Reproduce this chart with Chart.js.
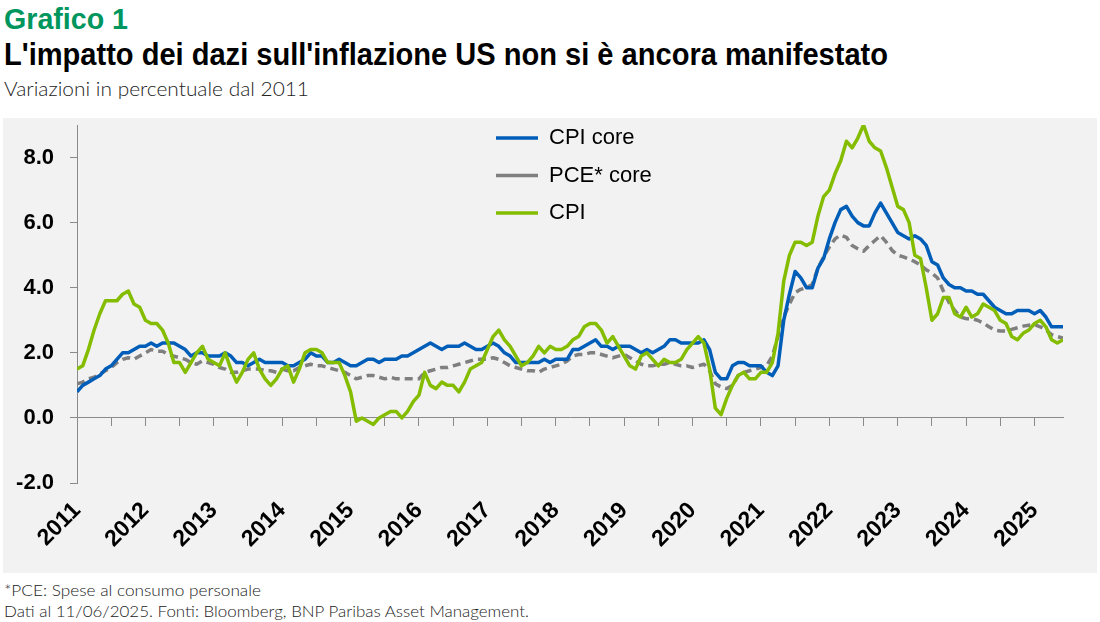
<!DOCTYPE html>
<html><head><meta charset="utf-8">
<script src="https://cdn.jsdelivr.net/npm/chart.js@4.4.1/dist/chart.umd.min.js"></script>
<style>
html,body{margin:0;padding:0;background:#fff;}
body{width:1100px;height:622px;position:relative;overflow:hidden;}
.txt{position:absolute;left:4px;white-space:nowrap;transform-origin:0 0;}
#t1{top:2px;font:bold 29px/34px "Liberation Sans Narrow","Liberation Sans",sans-serif;color:#00965e;}
#t2{top:36px;font:bold 32px/36px "Liberation Sans Narrow","Liberation Sans",sans-serif;color:#000;}
#t3{top:76px;font:300 20px/24px "Lato","Liberation Sans",sans-serif;color:#222;}
#f1{top:580px;font:300 16px/19px "Lato","Liberation Sans",sans-serif;color:#222;}
#f2{top:601px;font:300 16px/19px "Lato","Liberation Sans",sans-serif;color:#222;}
#panel{position:absolute;left:3px;top:118px;width:1094px;height:455px;background:#f2f2f2;}
#c{display:block;}
</style></head>
<body>
<div id="t1" class="txt" data-w="124">Grafico 1</div>
<div id="t2" class="txt" data-w="884">L'impatto dei dazi sull'inflazione US non si è ancora manifestato</div>
<div id="t3" class="txt" data-w="305">Variazioni in percentuale dal 2011</div>
<div id="panel"><canvas id="c" width="1094" height="455"></canvas></div>
<div id="f1" class="txt" data-w="257">*PCE: Spese al consumo personale</div>
<div id="f2" class="txt" data-w="525">Dati al 11/06/2025. Fonti: Bloomberg, BNP Paribas Asset Management.</div>
<script>
// Monthly series, first point = Dec 2010
const yearLabels = ['2011','2012','2013','2014','2015','2016','2017','2018','2019','2020','2021','2022','2023','2024','2025'];

const cpiCore = [0.8,
 1.0,1.1,1.2,1.3,1.5,1.6,1.8,2.0,2.0,2.1,2.2,2.2,
 2.3,2.2,2.3,2.3,2.3,2.2,2.1,1.9,2.0,2.0,1.9,1.9,
 1.9,2.0,1.9,1.7,1.7,1.6,1.7,1.8,1.7,1.7,1.7,1.7,
 1.6,1.6,1.7,1.8,2.0,1.9,1.9,1.7,1.7,1.8,1.7,1.6,
 1.6,1.7,1.8,1.8,1.7,1.8,1.8,1.8,1.9,1.9,2.0,2.1,
 2.2,2.3,2.2,2.1,2.2,2.2,2.2,2.3,2.2,2.1,2.1,2.2,
 2.3,2.2,2.0,1.9,1.7,1.7,1.7,1.7,1.7,1.8,1.7,1.8,
 1.8,1.8,2.1,2.1,2.2,2.3,2.4,2.2,2.2,2.1,2.2,2.2,
 2.2,2.1,2.0,2.1,2.0,2.1,2.2,2.4,2.4,2.3,2.3,2.3,
 2.3,2.4,2.1,1.4,1.2,1.2,1.6,1.7,1.7,1.6,1.6,1.6,
 1.4,1.3,1.6,3.0,3.8,4.5,4.3,4.0,4.0,4.6,4.9,5.5,
 6.0,6.4,6.5,6.2,6.0,5.9,5.9,6.3,6.6,6.3,6.0,5.7,
 5.6,5.5,5.6,5.5,5.3,4.8,4.7,4.3,4.1,4.0,4.0,3.9,
 3.9,3.8,3.8,3.6,3.4,3.3,3.2,3.2,3.3,3.3,3.3,3.2,
 3.3,3.1,2.8,2.8,2.8];

const pceCore = [1.05,
 1.1,1.2,1.25,1.35,1.45,1.55,1.7,1.8,1.85,1.8,1.9,2.0,
 2.1,2.05,2.05,1.95,1.9,1.85,1.8,1.7,1.65,1.75,1.7,1.65,
 1.55,1.5,1.4,1.4,1.45,1.5,1.5,1.5,1.45,1.45,1.4,1.5,
 1.45,1.45,1.55,1.6,1.65,1.6,1.6,1.55,1.5,1.45,1.4,1.3,
 1.2,1.25,1.3,1.3,1.25,1.2,1.25,1.2,1.2,1.2,1.2,1.2,
 1.4,1.45,1.5,1.55,1.55,1.6,1.65,1.7,1.75,1.8,1.8,1.8,
 1.85,1.8,1.7,1.6,1.55,1.5,1.45,1.45,1.4,1.5,1.55,1.6,
 1.65,1.75,1.9,1.95,1.95,2.0,2.0,1.95,1.9,1.85,1.9,1.95,
 1.85,1.75,1.65,1.6,1.6,1.65,1.65,1.7,1.65,1.6,1.6,1.55,
 1.6,1.65,1.45,1.05,0.95,0.9,1.0,1.3,1.4,1.45,1.5,1.55,
 1.6,1.9,2.5,3.1,3.5,3.85,3.95,4.0,4.1,4.6,4.95,5.25,
 5.5,5.62,5.55,5.3,5.2,5.12,5.3,5.45,5.6,5.4,5.15,5.0,
 4.95,4.88,4.8,4.7,4.55,4.45,4.3,3.9,3.55,3.3,3.1,3.05,
 3.05,3.0,2.92,2.8,2.7,2.67,2.67,2.72,2.77,2.82,2.85,2.87,
 2.8,2.7,2.56,2.5,2.45];

const cpi = [1.5,
 1.6,2.1,2.7,3.2,3.6,3.6,3.6,3.8,3.9,3.5,3.4,3.0,
 2.9,2.9,2.7,2.3,1.7,1.7,1.4,1.7,2.0,2.2,1.8,1.7,
 1.6,2.0,1.5,1.1,1.4,1.8,2.0,1.5,1.2,1.0,1.2,1.5,
 1.6,1.1,1.5,2.0,2.1,2.1,2.0,1.7,1.7,1.7,1.3,0.8,
 -0.1,0.0,-0.1,-0.2,0.0,0.1,0.2,0.2,0.0,0.2,0.5,0.7,
 1.4,1.0,0.9,1.1,1.0,1.0,0.8,1.1,1.5,1.6,1.7,2.1,
 2.5,2.7,2.4,2.2,1.9,1.6,1.7,1.9,2.2,2.0,2.2,2.1,
 2.1,2.2,2.4,2.5,2.8,2.9,2.9,2.7,2.3,2.5,2.2,1.9,
 1.6,1.5,1.9,2.0,1.8,1.6,1.8,1.7,1.7,1.8,2.1,2.3,
 2.5,2.3,1.5,0.3,0.1,0.6,1.0,1.3,1.4,1.2,1.2,1.4,
 1.4,1.7,2.6,4.2,5.0,5.4,5.4,5.3,5.4,6.2,6.8,7.0,
 7.5,7.9,8.5,8.3,8.6,9.0,8.5,8.3,8.2,7.7,7.1,6.5,
 6.4,6.0,5.0,4.9,4.0,3.0,3.2,3.7,3.7,3.2,3.1,3.4,
 3.1,3.2,3.5,3.4,3.3,3.0,2.9,2.5,2.4,2.6,2.7,2.9,
 3.0,2.8,2.4,2.3,2.4];

const monthIndex = cpi.map((_, i) => i);

const AXIS = '#8a8a8a';
const LEGEND_LEFT = 477.5, LEGEND_TOP = -6.5;

const legendPlace = {
  id: 'legendPlace',
  afterLayout(chart) {
    const lg = chart.legend;
    if (!lg) return;
    const w = lg.width, h = lg.height;
    lg.left = LEGEND_LEFT; lg.top = LEGEND_TOP;
    lg.right = lg.left + w; lg.bottom = lg.top + h;
  }
};

function fitTexts() {
  document.querySelectorAll('.txt').forEach(el => {
    const target = parseFloat(el.dataset.w);
    if (!target) return;
    el.style.transform = 'none';
    const w = el.getBoundingClientRect().width;
    if (w > 0) el.style.transform = 'scaleX(' + (target / w) + ')';
  });
}

function draw() {
  fitTexts();
  new Chart(document.getElementById('c'), {
    type: 'line',
    data: {
      labels: monthIndex,
      datasets: [
        {label: 'CPI core', data: cpiCore, borderColor: '#005eb8', backgroundColor: '#005eb8', borderWidth: 3.5, order: 1},
        {label: 'PCE* core', data: pceCore, borderColor: '#7f7f7f', backgroundColor: '#7f7f7f', borderWidth: 3.5, borderDash: [8, 5], order: 2},
        {label: 'CPI', data: cpi, borderColor: '#84bd00', backgroundColor: '#84bd00', borderWidth: 3.5, order: 0}
      ]
    },
    options: {
      responsive: false,
      animation: false,
      devicePixelRatio: 1,
      layout: {padding: {left: 0, top: 7, right: 34, bottom: 0}},
      elements: {point: {radius: 0}, line: {tension: 0, borderJoinStyle: 'round'}},
      plugins: {
        tooltip: {enabled: false},
        legend: {
          position: 'chartArea',
          align: 'start',
          labels: {
            usePointStyle: true, pointStyle: 'line', pointStyleWidth: 42,
            padding: 15.5, color: '#000',
            font: {family: 'Liberation Sans', size: 22},
            sort: (a, b) => a.datasetIndex - b.datasetIndex
          }
        }
      },
      scales: {
        x: {
          type: 'linear', position: 'bottom', min: 0, max: 173,
          grid: {display: false, drawTicks: false},
          border: {display: false},
          ticks: {
            stepSize: 12, autoSkip: false, includeBounds: false,
            minRotation: 45, maxRotation: 45, padding: 14, color: '#000',
            font: {family: 'Liberation Sans', weight: 'bold', size: 23},
            callback: (v) => (v % 12 === 0 ? yearLabels[v / 12] : '')
          },
          afterFit(s) { s.height = 90; s.paddingLeft = 0; s.paddingRight = 0; }
        },
        x2: {
          type: 'linear', position: {y: 0}, min: 0, max: 173,
          grid: {drawOnChartArea: false, drawTicks: true, tickLength: 8, color: AXIS},
          border: {display: true, color: AXIS, width: 1},
          ticks: {display: false, stepSize: 6, includeBounds: false, autoSkip: false}
        },
        y: {
          min: -2, max: 9,
          grid: {drawOnChartArea: false, drawTicks: true, tickLength: 7, color: AXIS},
          border: {display: true, color: AXIS, width: 1},
          ticks: {
            stepSize: 2, includeBounds: false, padding: 16, color: '#000',
            font: {family: 'Liberation Sans', weight: 'bold', size: 22},
            callback: (v) => v.toFixed(1)
          },
          afterFit(s) { s.width = 74; s.paddingTop = 0; s.paddingBottom = 0; }
        }
      }
    },
    plugins: [legendPlace]
  });
}
if (document.fonts && document.fonts.ready) { document.fonts.ready.then(draw); } else { draw(); }
</script>
</body></html>
